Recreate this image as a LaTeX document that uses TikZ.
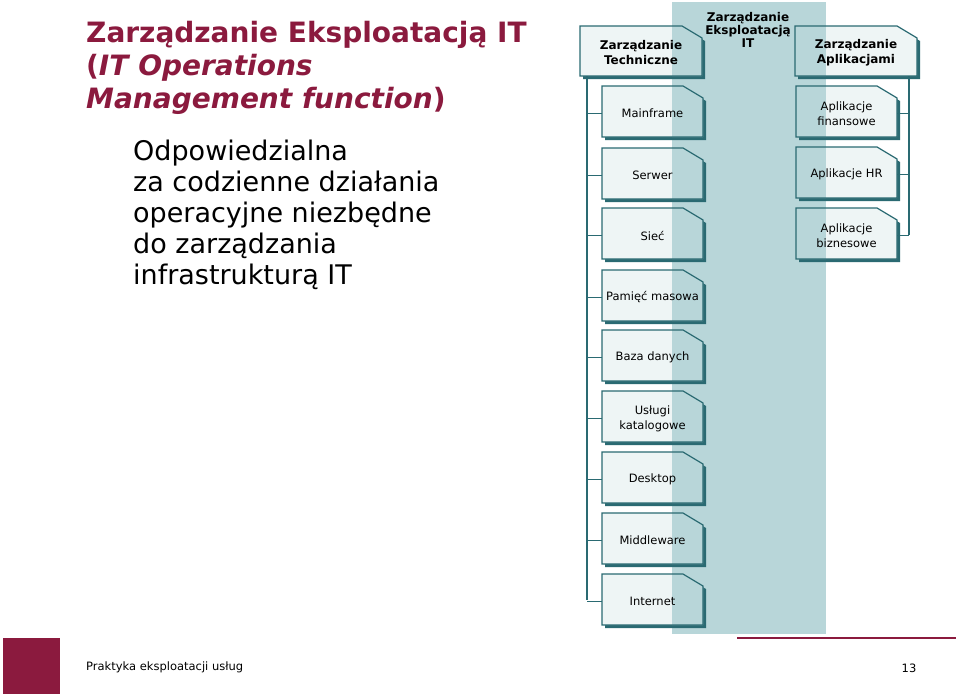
\documentclass[tikz,border=0pt]{standalone}
\usepackage{fontspec}
\setmainfont{DejaVu Sans}
\usetikzlibrary{calc}
\definecolor{titred}{HTML}{8B1A3E}
\definecolor{band}{HTML}{B8D6D9}
\definecolor{teal}{HTML}{2A6A72}
\definecolor{boxfill}{HTML}{EEF5F5}
\tikzset{
  bx/.style={inner sep=0pt, align=center, font=\fontsize{11.5}{15}\selectfont, text=black},
  hbx/.style={bx, font=\bfseries\fontsize{12}{15}\selectfont},
  conn/.style={draw=teal, line width=1.6pt},
}
\newcommand\mybox[6]{%
  \fill[teal] (#2+3,#3+3) -- (#4+3-20,#3+3) -- (#4+3,#3+3+12) -- (#4+3,#5+3) -- (#2+3,#5+3) -- cycle;
  \fill[boxfill] (#2,#3) -- (#4-20,#3) -- (#4,#3+12) -- (#4,#5) -- (#2,#5) -- cycle;
  \begin{scope}
  \clip (#2,#3) -- (#4-20,#3) -- (#4,#3+12) -- (#4,#5) -- (#2,#5) -- cycle;
  \fill[band] (672,2) rectangle (826,634);
  \end{scope}
  \draw[teal,line width=1.2pt] (#2,#3) -- (#4-20,#3) -- (#4,#3+12) -- (#4,#5) -- (#2,#5) -- cycle;
  \node[#6] (#1) at ({(#2+#4)/2},{(#3+#5)/2+2}) {\phantom{X}};
}
\begin{document}
\begin{tikzpicture}[x=1pt,y=-1pt]
\useasboundingbox (0,0) rectangle (960,696);
\fill[white] (0,0) rectangle (960,696);
\fill[band] (672,2) rectangle (826,634);
\node[hbx] (eks) at (748,30) {Zarządzanie\\[-2pt]Eksploatacją\\[-2pt]IT};
% title
\node[anchor=west,text=titred,font=\bfseries\fontsize{28}{33}\selectfont,align=left,inner sep=0pt] (tit) at (86,68) {Zarządzanie Eksploatacją IT\\(\textit{IT Operations}\\\textit{Management function})};
\node[anchor=west,font=\fontsize{27}{31}\selectfont,align=left,inner sep=0pt] (body) at (133,215) {Odpowiedzialna\\za codzienne działania\\operacyjne niezbędne\\do zarządzania\\infrastrukturą IT};
% header boxes
\mybox{tech}{580}{26}{702}{76}{hbx}
\node[hbx] at (tech) {Zarządzanie\\Techniczne};
\mybox{apl}{795}{26}{917}{76}{hbx}
\node[hbx] at (apl) {Zarządzanie\\Aplikacjami};
% left boxes
\foreach \n/\ya/\t in {a/86/Mainframe,b/148/Serwer,c/208/Sieć,d/270/Pamięć masowa,e/330/Baza danych,f/391/{Usługi\\katalogowe},g/452/Desktop,h/513/Middleware,i/574/Internet}{
  \mybox{\n}{602}{\ya}{703}{\ya+51}{bx}
  \node[bx] at (\n) {\t};
}
\foreach \n/\ya/\t in {r1/86/{Aplikacje\\finansowe},r2/147/Aplikacje HR,r3/208/{Aplikacje\\biznesowe}}{
  \mybox{\n}{796}{\ya}{897}{\ya+51}{bx}
  \node[bx] at (\n) {\t};
}
% connectors
\coordinate (lt) at (587,76);
\coordinate (lb) at (587,600);
\draw[conn] (lt) -- (lb);
\foreach \n in {a,b,c,d,e,f,g,h,i}{ \draw[conn] (587,0 |- \n) -- (602,0 |- \n); }
\coordinate (rt) at (909,76);
\coordinate (rb) at (909,235);
\draw[conn] (rt) -- (rb);
\foreach \n in {r1,r2,r3}{ \draw[conn] (909,0 |- \n) -- (897,0 |- \n); }
% footer
\fill[titred] (3,638) rectangle (60,694);
\draw[titred,line width=1.2pt] (737,638) -- (956,638);
\node[anchor=west,font=\fontsize{11.5}{13}\selectfont,inner sep=0pt] (foot) at (86,667) {Praktyka eksploatacji usług};
\node[font=\fontsize{11.5}{13}\selectfont,inner sep=0pt] (pg) at (909,668) {13};
\end{tikzpicture}
\end{document}
